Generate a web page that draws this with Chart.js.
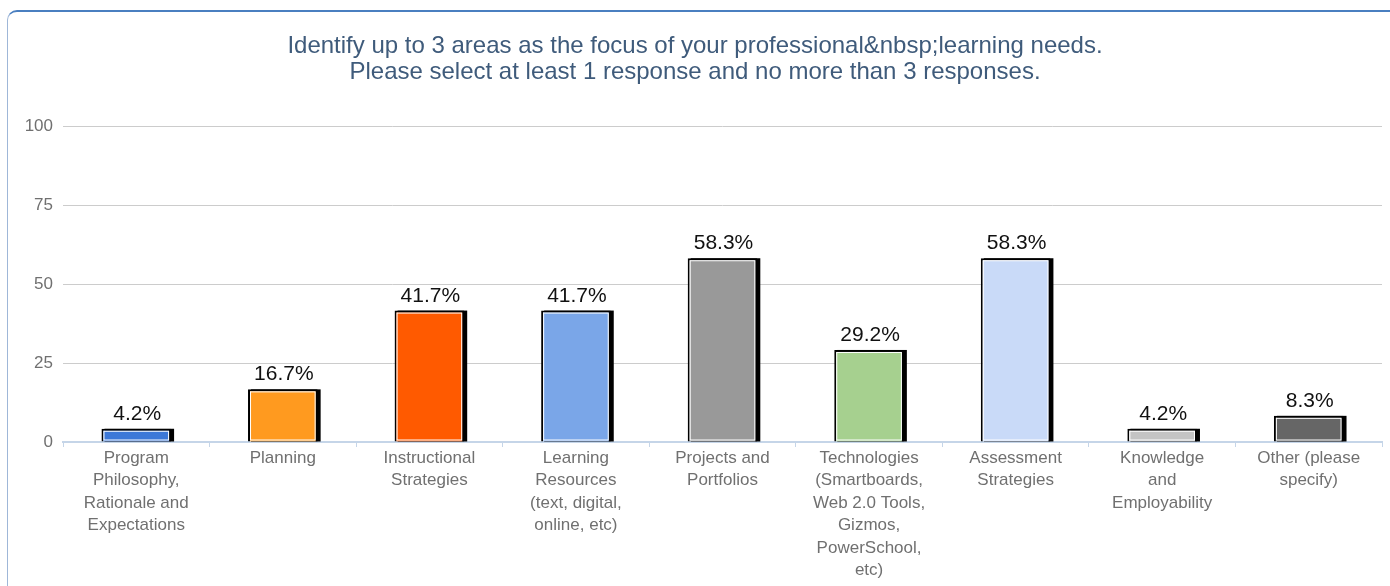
<!DOCTYPE html>
<html>
<head>
<meta charset="utf-8">
<script src="https://cdn.jsdelivr.net/npm/chart.js@4/dist/chart.umd.min.js"></script>
<style>
  html, body { margin: 0; padding: 0; background: #fff; overflow: hidden; }
  #card {
    position: absolute; left: 7px; top: 10px; width: 1400px; height: 620px;
    border-top: 2px solid #4a7fc0; border-left: 1px solid #9fb7d8;
    border-radius: 10px 0 0 0; box-sizing: border-box;
  }
  #wrap { position: absolute; left: 0; top: 0; width: 1390px; height: 586px; }
</style>
</head>
<body>
<div id="card"></div>
<div id="wrap"><canvas id="chart"></canvas></div>
<script>
const categories = [
  ['Program', 'Philosophy,', 'Rationale and', 'Expectations'],
  ['Planning'],
  ['Instructional', 'Strategies'],
  ['Learning', 'Resources', '(text, digital,', 'online, etc)'],
  ['Projects and', 'Portfolios'],
  ['Technologies', '(Smartboards,', 'Web 2.0 Tools,', 'Gizmos,', 'PowerSchool,', 'etc)'],
  ['Assessment', 'Strategies'],
  ['Knowledge', 'and', 'Employability'],
  ['Other (please', 'specify)']
];
const percents = [4.2, 16.7, 41.7, 41.7, 58.3, 29.2, 58.3, 4.2, 8.3];
const barColors = ['#3c78d8', '#ff9a1f', '#ff5a00', '#7aa6e8', '#999999', '#a6d08f', '#c9daf8', '#c4c4c4', '#666666'];
const titleLines = [
  'Identify up to 3 areas as the focus of your professional&nbsp;learning needs.',
  'Please select at least 1 response and no more than 3 responses.'
];

const FONT = '"Liberation Sans", Arial, sans-serif';

// black drop strip on the right, white inner line, value labels
const barDeco = {
  id: 'barDeco',
  beforeDatasetsDraw(chart) {
    const c = chart.ctx;
    c.save();
    c.fillStyle = '#000';
    chart.getDatasetMeta(0).data.forEach(bar => {
      const p = bar.getProps(['x', 'y', 'base', 'width'], true);
      c.fillRect(p.x - p.width / 2 + 3, p.y, p.width, p.base - p.y);
    });
    c.restore();
  },
  afterDatasetsDraw(chart) {
    const c = chart.ctx;
    c.save();
    chart.getDatasetMeta(0).data.forEach((bar, i) => {
      const p = bar.getProps(['x', 'y', 'base', 'width'], true);
      const left = p.x - p.width / 2;
      c.strokeStyle = '#fff';
      c.lineWidth = 1;
      c.strokeRect(left + 2.5, p.y + 2.5, p.width - 5, p.base - p.y - 4);
      c.fillStyle = '#111';
      c.font = '21px ' + FONT;
      c.textAlign = 'center';
      c.textBaseline = 'alphabetic';
      c.fillText(percents[i].toFixed(1) + '%', p.x + 1, p.y - 9);
    });
    c.restore();
  }
};

const ctx = document.getElementById('chart').getContext('2d');
const chart = new Chart(ctx, {
  type: 'bar',
  data: {
    labels: categories,
    datasets: [{
      data: percents,
      backgroundColor: barColors,
      borderColor: '#000',
      borderWidth: 2,
      borderSkipped: 'bottom',
      barPercentage: 0.475,
      categoryPercentage: 1
    }]
  },
  plugins: [barDeco],
  options: {
    responsive: true,
    maintainAspectRatio: false,
    animation: false,
    layout: { padding: { left: 8, right: 8, top: 0, bottom: 0 } },
    plugins: {
      legend: { display: false },
      tooltip: { enabled: false },
      title: {
        display: true,
        text: titleLines,
        color: '#3f5b7b',
        font: { family: FONT, size: 24, weight: 'normal', lineHeight: 1.1 },
        padding: { top: 33, bottom: 41 }
      }
    },
    scales: {
      x: {
        grid: {
          offset: true,
          drawOnChartArea: false,
          drawTicks: true,
          tickLength: 5,
          color: '#c5d5e8'
        },
        border: { display: true, color: '#c5d5e8', width: 2 },
        ticks: {
          color: '#707070',
          maxRotation: 0,
          autoSkip: false,
          padding: 0,
          font: { family: FONT, size: 17, lineHeight: 1.32 }
        },
        afterFit(scale) { scale.height = 144; }
      },
      y: {
        min: 0,
        max: 100,
        ticks: {
          stepSize: 25,
          color: '#707070',
          padding: 10,
          font: { family: FONT, size: 17 }
        },
        grid: { color: '#cccccc', lineWidth: 1, drawTicks: false },
        border: { display: false },
        afterFit(scale) { scale.width = 55; }
      }
    }
  }
});
</script>
</body>
</html>
